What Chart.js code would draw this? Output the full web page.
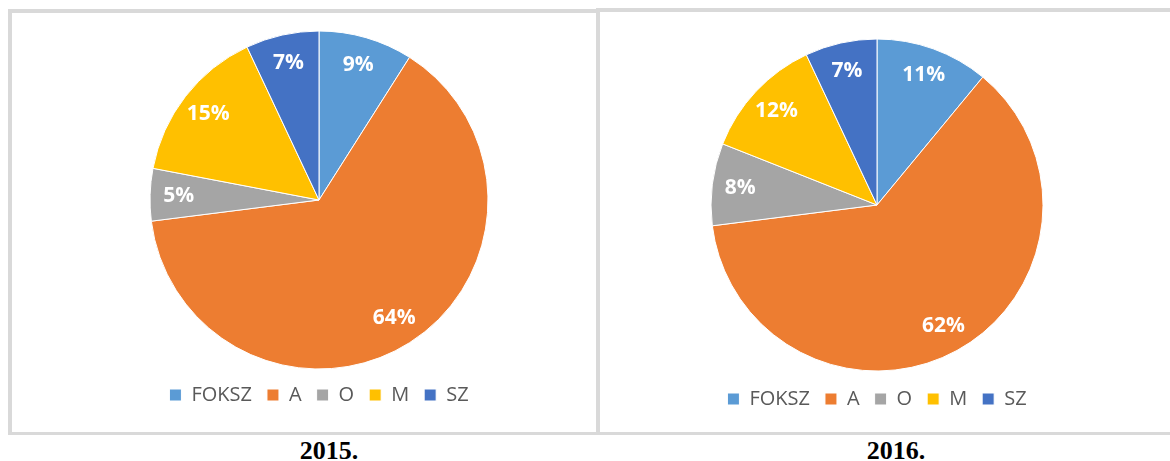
<!DOCTYPE html>
<html>
<head>
<meta charset="utf-8">
<script src="https://cdn.jsdelivr.net/npm/chart.js@4/dist/chart.umd.min.js"></script>
<style>
  html, body { margin: 0; padding: 0; background: #fff; overflow: hidden; }
  body { width: 1170px; height: 461px; position: relative; }
  .frame { position: absolute; border: 4px solid #d9d9d9; border-bottom-width: 3px; box-sizing: border-box; }
  .holder { position: absolute; }
  .caption { position: absolute; top: 436px; width: 200px; text-align: center;
             font: bold 26px "Liberation Serif", "Times New Roman", serif; color: #000; }
</style>
</head>
<body>
<div class="frame" style="left:8px; top:9px; width:592px; height:426px;"></div>
<div class="frame" style="left:596px; top:8px; width:600px; height:427px;"></div>

<div class="holder" style="left:12px; top:30px; width:584px; height:385px;"><canvas id="pie2015"></canvas></div>
<div class="holder" style="left:601px; top:36px; width:569px; height:383px;"><canvas id="pie2016"></canvas></div>

<div class="caption" style="left:229px;">2015.</div>
<div class="caption" style="left:796px;">2016.</div>

<script>
const categories = ['FOKSZ', 'A', 'O', 'M', 'SZ'];
const values2015 = [9, 64, 5, 15, 7];
const values2016 = [11, 62, 8, 12, 7];
const sliceColors = ['#5b9bd5', '#ed7d31', '#a5a5a5', '#ffc000', '#4472c4'];

// white percentage labels inside each slice
const sliceLabels = {
    id: 'sliceLabels',
    afterDatasetsDraw(chart) {
        const ctx = chart.ctx;
        const meta = chart.getDatasetMeta(0);
        const data = chart.data.datasets[0].data;
        ctx.save();
        ctx.fillStyle = '#ffffff';
        ctx.font = 'bold 21px "Open Sans", sans-serif';
        ctx.textAlign = 'center';
        ctx.textBaseline = 'middle';
        meta.data.forEach((arc, i) => {
            const p = arc.getProps(['x', 'y', 'startAngle', 'endAngle', 'outerRadius'], true);
            const mid = (p.startAngle + p.endAngle) / 2;
            const r = p.outerRadius * 0.83;
            ctx.fillText(data[i] + '%', p.x + Math.cos(mid) * r, p.y + Math.sin(mid) * r);
        });
        ctx.restore();
    }
};

function makePie(id, values, radius, padding) {
    const ctx = document.getElementById(id).getContext('2d');
    return new Chart(ctx, {
        type: 'pie',
        data: {
            labels: categories,
            datasets: [{
                data: values,
                backgroundColor: sliceColors,
                borderColor: '#ffffff',
                borderWidth: 1,
                hoverOffset: 0
            }]
        },
        options: {
            responsive: true,
            maintainAspectRatio: false,
            animation: false,
            radius: radius,
            layout: { padding: padding },
            plugins: {
                tooltip: { enabled: false },
                legend: {
                    position: 'bottom',
                    labels: {
                        boxWidth: 12,
                        boxHeight: 12,
                        padding: 15,
                        color: '#595959',
                        font: { family: '"Open Sans", sans-serif', size: 20 }
                    }
                }
            }
        },
        plugins: [sliceLabels]
    });
}

makePie('pie2015', values2015, 169, { left: 30, right: 0, top: 0, bottom: 0 });
makePie('pie2016', values2016, 166, { left: 0, right: 17, top: 0, bottom: 0 });
</script>
</body>
</html>
